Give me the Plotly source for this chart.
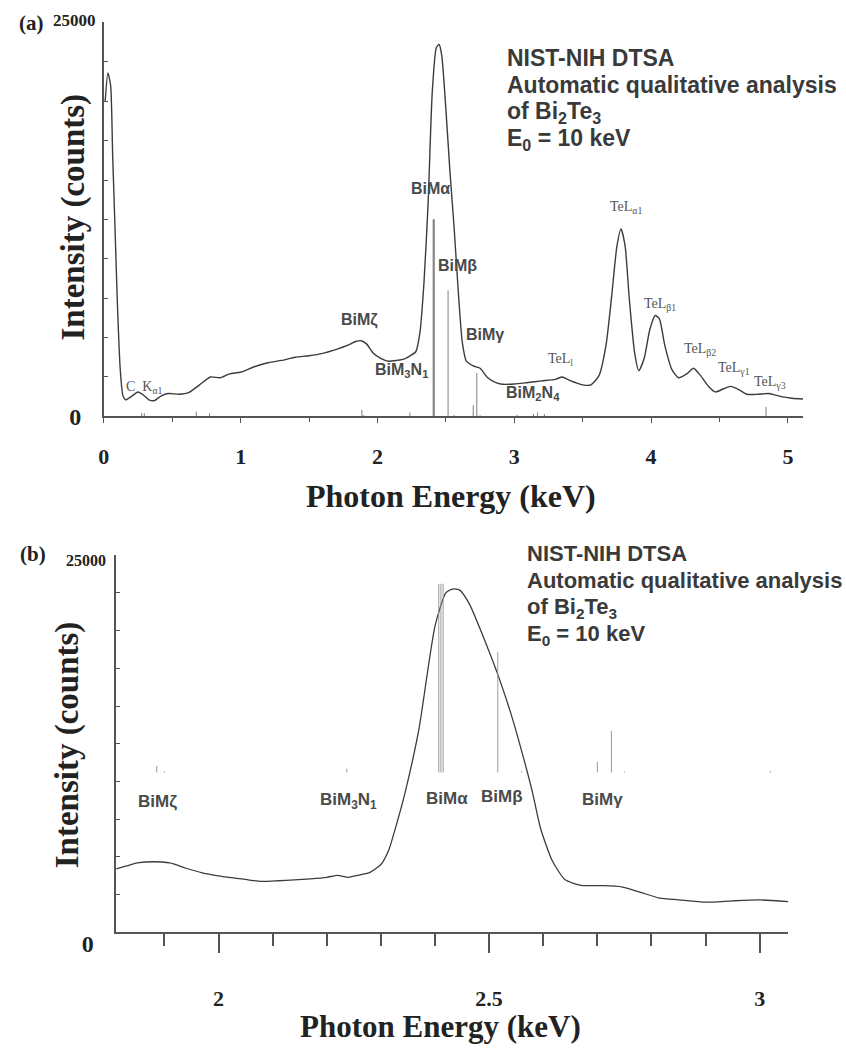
import plotly.graph_objects as go

# ---------------- data ----------------
# Panel (a): full EDS spectrum of Bi2Te3 (photon energy keV, counts)
energy_a = [0.01, 0.03, 0.05, 0.065, 0.08, 0.10, 0.12, 0.14, 0.16, 0.20, 0.25, 0.29, 0.33, 0.37,
            0.42, 0.47, 0.55, 0.62, 0.70, 0.78, 0.85, 0.92, 1.00, 1.10, 1.20, 1.30, 1.40, 1.50,
            1.60, 1.70, 1.78, 1.84, 1.88, 1.92, 1.97, 2.02, 2.08, 2.14, 2.20, 2.24, 2.28, 2.31,
            2.34, 2.37, 2.40, 2.43, 2.45, 2.47, 2.50, 2.53, 2.56, 2.59, 2.62, 2.65, 2.70, 2.75,
            2.80, 2.85, 2.90, 3.00, 3.10, 3.20, 3.30, 3.35, 3.40, 3.50, 3.56, 3.62, 3.67, 3.71,
            3.75, 3.78, 3.81, 3.84, 3.88, 3.91, 3.95, 3.99, 4.03, 4.06, 4.10, 4.15, 4.20, 4.26,
            4.31, 4.36, 4.42, 4.47, 4.53, 4.58, 4.64, 4.70, 4.78, 4.86, 4.95, 5.03, 5.11]
counts_a = [20000, 21800, 21000, 16500, 12500, 7000, 3000, 1300, 1050, 1250, 1550, 1350, 1050, 1000,
            1300, 1450, 1400, 1500, 2000, 2500, 2450, 2700, 2800, 3150, 3400, 3550, 3750, 3850,
            4000, 4250, 4500, 4750, 4800, 4600, 4000, 3700, 3500, 3550, 3650, 3850, 4100, 5300,
            8500, 13500, 20500, 23400, 23600, 22900, 19500, 15500, 12000, 8000, 4700, 3500, 3200, 3050,
            2500, 2200, 2050, 2050, 2150, 2250, 2350, 2500, 2300, 2000, 2000, 2600, 4500, 7500,
            10800, 11900, 10800, 7500, 4000, 2900, 3700, 5500, 6400, 6200, 4500, 3000, 2450, 2700,
            3050, 2600, 1900, 1550, 1750, 1900, 1700, 1400, 1400, 1450, 1250, 1150, 1100]

# Panel (b): expanded view around the Bi M family
energy_b = [1.811, 1.83, 1.85, 1.88, 1.91, 1.94, 1.97, 2.00, 2.03, 2.06, 2.08, 2.11, 2.14, 2.17,
            2.20, 2.22, 2.24, 2.26, 2.28, 2.30, 2.315, 2.33, 2.345, 2.37, 2.40, 2.42, 2.432, 2.445,
            2.463, 2.493, 2.518, 2.542, 2.561, 2.58, 2.595, 2.616, 2.64, 2.67, 2.71, 2.745, 2.78,
            2.815, 2.85, 2.90, 2.95, 3.00, 3.053]
counts_b = [4200, 4400, 4600, 4680, 4600, 4250, 3950, 3750, 3600, 3450, 3380, 3420, 3480, 3550,
            3650, 3780, 3650, 3800, 3980, 4500, 5500, 7300, 9300, 13400, 20300, 22500, 22750, 22700,
            21800, 19250, 16900, 14300, 11900, 9300, 6900, 4800, 3500, 3120, 3100, 3020, 2650,
            2270, 2160, 2000, 2090, 2150, 2040]

# Automatic qualitative analysis: characteristic line markers (keV, relative height in counts)
line_energy = [0.277, 0.296, 0.676, 0.773, 1.886, 1.900, 2.237, 2.407, 2.411, 2.415, 2.516, 2.560,
               2.700, 2.726, 2.750, 3.02, 3.14, 3.17, 3.22, 4.84]
line_height = [200, 200, 300, 200, 420, 80, 250, 12500, 12500, 12500, 8000, 80,
               700, 2750, 70, 100, 150, 250, 150, 600]
marker_base_b = 10600

y_tick_vals = [0, 2500, 5000, 7500, 10000, 12500, 15000, 17500, 20000, 22500, 25000]
xa_tick_vals = [0, 1, 2, 3, 4, 5]
xa_minor_vals = [0.5, 1.5, 2.5, 3.5, 4.5]
xb_tick_vals = [2, 2.5, 3]
xb_minor_vals = [1.9, 2.1, 2.2, 2.3, 2.4, 2.6, 2.7, 2.8, 2.9]

# ---------------- figure ----------------
W, H = 846, 1059
SERIF = "Times New Roman, Liberation Serif, serif"
SANS = "Arial, Liberation Sans, sans-serif"
AX = "#555555"

def px(x):
    return x / W

def py(y):
    return 1 - y / H

fig = go.Figure()

# spectra
fig.add_trace(go.Scatter(x=energy_a, y=counts_a, mode="lines", xaxis="x", yaxis="y",
                         line=dict(color="#3c3c3c", width=1.4, shape="spline", smoothing=0.6),
                         hoverinfo="skip"))
fig.add_trace(go.Scatter(x=energy_b, y=counts_b, mode="lines", xaxis="x2", yaxis="y2",
                         line=dict(color="#3c3c3c", width=1.3, shape="spline", smoothing=0.6),
                         hoverinfo="skip"))

# line markers
mx, my = [], []
for e, h in zip(line_energy, line_height):
    mx += [e, e, None]
    my += [0, h, None]
fig.add_trace(go.Scatter(x=mx, y=my, mode="lines", xaxis="x", yaxis="y",
                         line=dict(color="#808080", width=1), hoverinfo="skip"))
bx, by = [], []
for e, h in zip(line_energy, line_height):
    if 1.811 <= e <= 3.053:
        bx += [e, e, None]
        by += [marker_base_b, marker_base_b + h, None]
fig.add_trace(go.Scatter(x=bx, y=by, mode="lines", xaxis="x2", yaxis="y2",
                         line=dict(color="#9a9a9a", width=1), hoverinfo="skip"))

common_axis = dict(showline=True, linecolor=AX, linewidth=1.5, showgrid=False, zeroline=False,
                   tickcolor=AX, fixedrange=True)

y_tick_text = ["<b>0</b>"] + [""] * (len(y_tick_vals) - 1)

fig.update_layout(
    width=W, height=H, margin=dict(l=0, r=0, t=0, b=0),
    paper_bgcolor="white", plot_bgcolor="white", showlegend=False,
    xaxis=dict(domain=[px(98.5), px(802.7)], range=[0, 5.11], anchor="y",
               ticks="outside", ticklen=5, tickwidth=1.2,
               tickvals=xa_tick_vals, ticktext=[f"<b>{v}</b>" for v in xa_tick_vals],
               tickfont=dict(family=SERIF, size=22, color="#222"), ticklabelstandoff=15,
               minor=dict(tickvals=xa_minor_vals, ticks="outside", ticklen=4, tickcolor=AX),
               **common_axis),
    yaxis=dict(domain=[py(426), py(23)], range=[0, 25000], anchor="x",
               ticks="inside", ticklen=4, tickwidth=1,
               tickvals=y_tick_vals, ticktext=y_tick_text,
               tickfont=dict(family=SERIF, size=24, color="#222"), ticklabelstandoff=16,
               **common_axis),
    xaxis2=dict(domain=[px(111), px(788)], range=[1.811, 3.053], anchor="y2",
                ticks="outside", ticklen=19, tickwidth=1.5,
                tickvals=xb_tick_vals, ticktext=["<b>2</b>", "<b>2.5</b>", "<b>3</b>"],
                tickfont=dict(family=SERIF, size=22, color="#222"), ticklabelstandoff=26,
                minor=dict(tickvals=xb_minor_vals, ticks="outside", ticklen=12, tickwidth=1.5,
                           tickcolor=AX),
                **common_axis),
    yaxis2=dict(domain=[py(954), py(568)], range=[0, 25000], anchor="x2",
                ticks="inside", ticklen=4, tickwidth=1,
                tickvals=y_tick_vals, ticktext=y_tick_text,
                tickfont=dict(family=SERIF, size=24, color="#222"), ticklabelstandoff=16,
                ticklabelshift=11,
                **common_axis),
)

anns = []

def add(text, x, y, xref, yref, size, family, color="#4a4a4a", xanchor="center",
        yanchor="middle", textangle=0, yshift=0):
    anns.append(dict(text=text, x=x, y=y, xref=xref, yref=yref, showarrow=False,
                     xanchor=xanchor, yanchor=yanchor, textangle=textangle, yshift=yshift,
                     font=dict(family=family, size=size, color=color)))

# panel letters, top tick labels
add("<b>(a)</b>", px(26), py(24), "paper", "paper", 21, SERIF, "#222")
add("<b>(b)</b>", px(27), py(567), "paper", "paper", 21, SERIF, "#222")
add("<b>25000</b>", px(93), 25000, "paper", "y", 17, SERIF, "#222", xanchor="right", yshift=2)
add("<b>25000</b>", px(103), 25000, "paper", "y2", 16, SERIF, "#222", xanchor="right", yshift=-5)

# axis titles
add("<b>Photon Energy (keV)</b>", px(448), py(507), "paper", "paper", 32, SERIF, "#222")
add("<b>Photon Energy (keV)</b>", px(438), py(1050), "paper", "paper", 31, SERIF, "#222")
add("<b>Intensity (counts)</b>", px(68), py(222), "paper", "paper", 33, SERIF, "#222", textangle=-90)
add("<b>Intensity (counts)</b>", px(62), py(762), "paper", "paper", 33, SERIF, "#222", textangle=-90)

# info block
info = ["<b>NIST-NIH DTSA</b>", "<b>Automatic qualitative analysis</b>",
        "<b>of Bi<sub>2</sub>Te<sub>3</sub></b>", "<b>E<sub>0</sub> = 10 keV</b>"]
for i, t in enumerate(info):
    add(t, px(503), py(59 + 28 * i), "paper", "paper", 23, SANS, "#3a3a3a", xanchor="left")
    add(t, px(523), py(566 + 28 * i), "paper", "paper", 22, SANS, "#3a3a3a", xanchor="left")

# panel (a) line labels
bim_a = [("BiMα", 2.391, 14450), ("BiMβ", 2.587, 9550), ("BiMζ", 1.868, 6140),
         ("BiMγ", 2.783, 5210), ("BiM<sub>3</sub>N<sub>1</sub>", 2.173, 2910),
         ("BiM<sub>2</sub>N<sub>4</sub>", 3.139, 1430)]
for t, x, y in bim_a:
    add(f"<b>{t}</b>", x, y, "x", "y", 16, SANS, "#4a4a4a")
tel_a = [("TeL<sub>α1</sub>", 3.813, 13270), ("TeL<sub>β1</sub>", 4.067, 7130),
         ("TeL<sub>β2</sub>", 4.357, 4220), ("TeL<sub>l</sub>", 3.335, 3600),
         ("TeL<sub>γ1</sub>", 4.604, 3040), ("TeL<sub>γ3</sub>", 4.866, 2170),
         ("C  K<sub>α1</sub>", 0.30, 1800)]
for t, x, y in tel_a:
    add(t, x, y, "x", "y", 14, SERIF, "#555555")

# panel (b) line labels
bim_b = [("BiMζ", 1.888, 8680), ("BiM<sub>3</sub>N<sub>1</sub>", 2.240, 8680),
         ("BiMα", 2.423, 8870), ("BiMβ", 2.524, 9000), ("BiMγ", 2.709, 8810)]
for t, x, y in bim_b:
    add(f"<b>{t}</b>", x, y, "x2", "y2", 17, SANS, "#4a4a4a")

fig.update_layout(annotations=anns)
fig.write_html("out.html")
